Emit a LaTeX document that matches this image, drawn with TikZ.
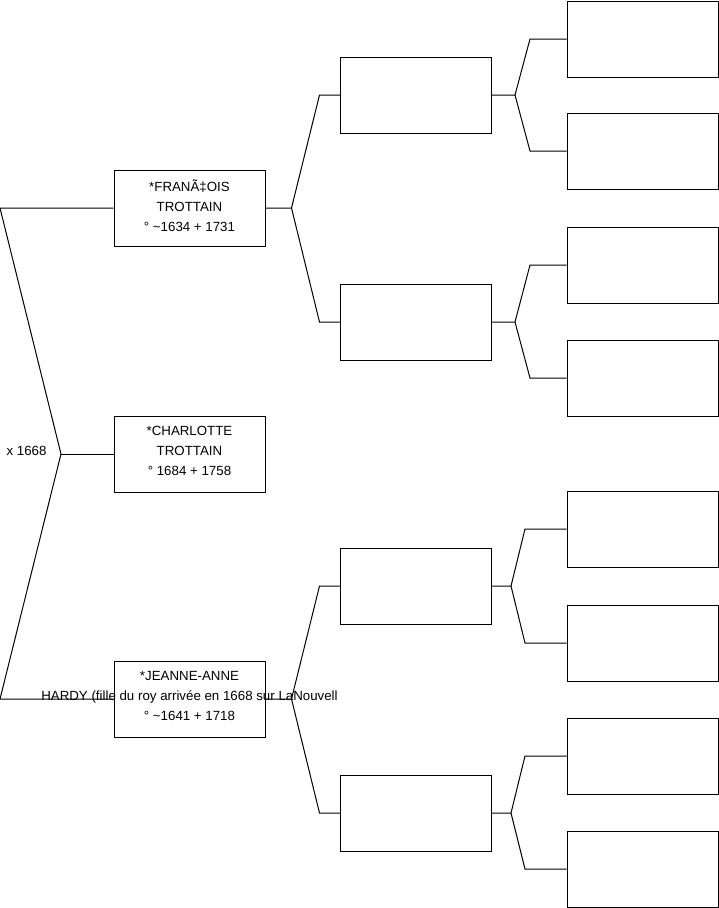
\documentclass[tikz,border=0pt]{standalone}
\usepackage{fontspec}
\setmainfont{Liberation Sans}

\begin{document}
\begin{tikzpicture}[x=1pt,y=-1pt,
  box/.style={draw,line width=1pt,minimum width=151pt,minimum height=76pt,
    inner sep=0pt,align=center,text depth=5.5pt,font=\fontsize{13.3}{20}\selectfont},
  link/.style={line width=1pt}]
  \useasboundingbox (0,0) rectangle (719,908);
  \coordinate (edge) at (0,0);

  % children and spouses
  \node[box] (f) at (189.5,208) {*FRANÃ‡OIS\\TROTTAIN\\° \textasciitilde1634 + 1731};
  \node[box] (c) at (189.5,454) {*CHARLOTTE\\TROTTAIN\\° 1684 + 1758};
  \node[box] (j) at (189.5,699) {*JEANNE-ANNE\\\makebox[0pt]{HARDY (fille du roy arrivée en 1668 sur LaNouvell}\\° \textasciitilde1641 + 1718};
  \node[font=\fontsize{13.3}{14}\selectfont] (mar) at (26.5,451) {x 1668};

  % parents
  \node[box] (f1) at (416,95) {};
  \node[box] (f2) at (416,322) {};
  \node[box] (j1) at (416,586) {};
  \node[box] (j2) at (416,813) {};

  % grandparents
  \foreach \n/\y in {f11/39,f12/151,f21/265,f22/378,j11/529,j12/643,j21/756,j22/869}
    \node[box] (\n) at (642.5,\y) {};

  % couple
  \coordinate (mk) at (61,454);
  \draw[link] (f.west) -- (f.west -| edge) -- (mk) -- (j.west -| edge) -- (j.west);
  \draw[link] (mk) -- (c.west);

  % forks
  \foreach \p/\a/\b/\d/\e in {f/f1/f2/26/54, j/j1/j2/26/54, f1/f11/f12/23/38,
      f2/f21/f22/23/38, j1/j11/j12/19/33, j2/j21/j22/19/33}
  {
    \path (\p.east) ++(\e,0) coordinate (s);
    \draw[link] (\p.east) -- ++(\d,0) coordinate (fk) -- (s |- \a.west) -- (\a.west);
    \draw[link] (fk) -- (s |- \b.west) -- (\b.west);
  }
\end{tikzpicture}
\end{document}
